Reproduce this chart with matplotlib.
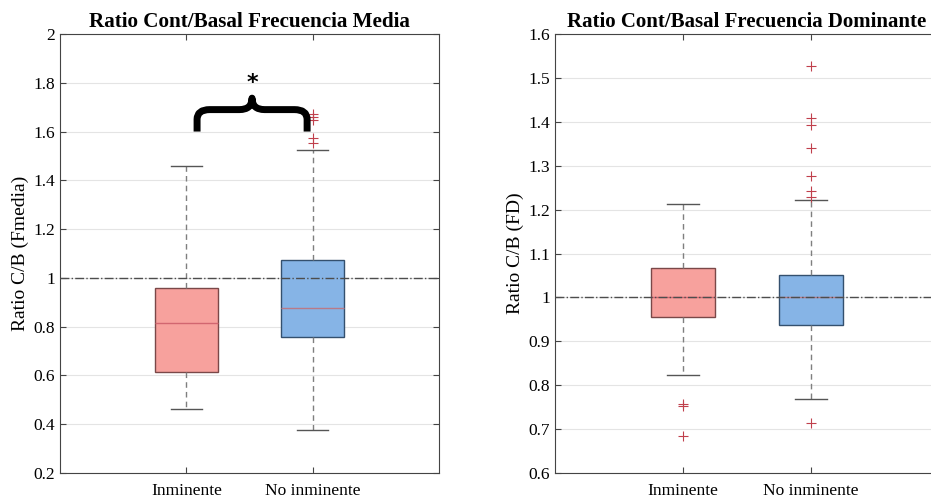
import numpy as np
import matplotlib
matplotlib.use('Agg')
import matplotlib.pyplot as plt
from matplotlib.path import Path
from matplotlib.patches import PathPatch
from matplotlib.ticker import FuncFormatter

plt.rcParams['font.family'] = ['Liberation Serif', 'DejaVu Serif']

grupos = ['Inminente', 'No inminente']

# Fmedia: cuartiles, mediana, bigotes, atipicos
fm_med = [0.816, 0.875]
fm_q1 = [0.613, 0.756]
fm_q3 = [0.960, 1.072]
fm_wlo = [0.462, 0.375]
fm_whi = [1.459, 1.523]
fm_out = [[], [1.555, 1.572, 1.648, 1.660, 1.670]]

# FD
fd_med = [1.0, 1.0]
fd_q1 = [0.955, 0.937]
fd_q3 = [1.066, 1.052]
fd_wlo = [0.823, 0.768]
fd_whi = [1.213, 1.223]
fd_out = [[0.684, 0.753, 0.757], [0.715, 1.228, 1.243, 1.277, 1.340, 1.393, 1.408, 1.526]]

fills = ['#f7a19d', '#86b4e6']
edges = ['#7a4848', '#34506e']
medianas = ['#d26670', '#b87a88']


def dibuja(ax, med, q1, q3, wlo, whi, out):
    stats = []
    for i in range(2):
        stats.append({'med': med[i], 'q1': q1[i], 'q3': q3[i],
                      'whislo': wlo[i], 'whishi': whi[i], 'fliers': out[i]})
    bp = ax.bxp(stats, positions=[1, 2], widths=0.5, patch_artist=True,
                boxprops=dict(linewidth=1.0),
                whiskerprops=dict(color='#7f7f7f', linestyle=(0, (4, 3)), linewidth=1.0),
                capprops=dict(color='#555555', linewidth=1.0),
                medianprops=dict(linewidth=1.0),
                flierprops=dict(marker='+', markeredgecolor='#c0404c', markersize=7,
                                markeredgewidth=0.8, linestyle='none'),
                capwidths=0.25)
    for p, f, e in zip(bp['boxes'], fills, edges):
        p.set_facecolor(f)
        p.set_edgecolor(e)
    for m, c in zip(bp['medians'], medianas):
        m.set_color(c)
    ax.axhline(1, color='#4d4d4d', linestyle='-.', linewidth=1.0, zorder=5)
    ax.set_xlim(0, 3)
    ax.set_xticks([1, 2])
    ax.set_xticklabels(grupos, fontsize=12.5)
    ax.yaxis.grid(True, color='#e4e4e4', linewidth=0.8)
    ax.set_axisbelow(True)
    ax.tick_params(direction='in', top=True, right=True, labelsize=12.5,
                   color='#444444', length=4)
    ax.tick_params(axis='x', pad=7)
    ax.yaxis.set_major_formatter(FuncFormatter(lambda v, p: '%g' % round(v, 2)))
    for s in ax.spines.values():
        s.set_color('#444444')
        s.set_linewidth(0.8)


fig = plt.figure(figsize=(9.31, 4.99), dpi=100)
ax1 = fig.add_axes([60 / 931, 26 / 499, 379 / 931, 439 / 499])
ax2 = fig.add_axes([555 / 931, 26 / 499, 384 / 931, 439 / 499])

dibuja(ax1, fm_med, fm_q1, fm_q3, fm_wlo, fm_whi, fm_out)
ax1.set_ylim(0.2, 2)
ax1.set_yticks(np.arange(0.2, 2.01, 0.2))
ax1.set_ylabel('Ratio C/B (Fmedia)', fontsize=14, labelpad=3)
ax1.set_title('Ratio Cont/Basal Frecuencia Media', fontsize=15.2, fontweight='bold', pad=5)

# llave de significancia entre grupos
x0, x1, xc = 1.085, 1.956, 1.52
yb, yh, yt = 1.60, 1.69, 1.737
verts = [(x0, yb), (x0, yh - 0.04), (x0, yh), (x0 + 0.1, yh), (xc - 0.1, yh),
         (xc, yh), (xc, yt), (xc, yh), (xc + 0.1, yh), (x1 - 0.1, yh),
         (x1, yh), (x1, yh - 0.04), (x1, yb)]
codes = [Path.MOVETO, Path.LINETO, Path.CURVE3, Path.CURVE3, Path.LINETO,
         Path.CURVE3, Path.CURVE3, Path.CURVE3, Path.CURVE3, Path.LINETO,
         Path.CURVE3, Path.CURVE3, Path.LINETO]
ax1.add_patch(PathPatch(Path(verts, codes), facecolor='none', edgecolor='black',
                        linewidth=5, capstyle='butt', joinstyle='round', zorder=6))
ax1.text(xc, 1.80, '*', fontsize=16, fontweight='bold', family='DejaVu Sans',
         ha='center', va='center')

dibuja(ax2, fd_med, fd_q1, fd_q3, fd_wlo, fd_whi, fd_out)
ax2.set_ylim(0.6, 1.6)
ax2.set_yticks(np.arange(0.6, 1.61, 0.1))
ax2.set_ylabel('Ratio C/B (FD)', fontsize=14, labelpad=3)
ax2.set_title('Ratio Cont/Basal Frecuencia Dominante', fontsize=15, fontweight='bold', pad=5)

fig.savefig('out.png', dpi=100)
